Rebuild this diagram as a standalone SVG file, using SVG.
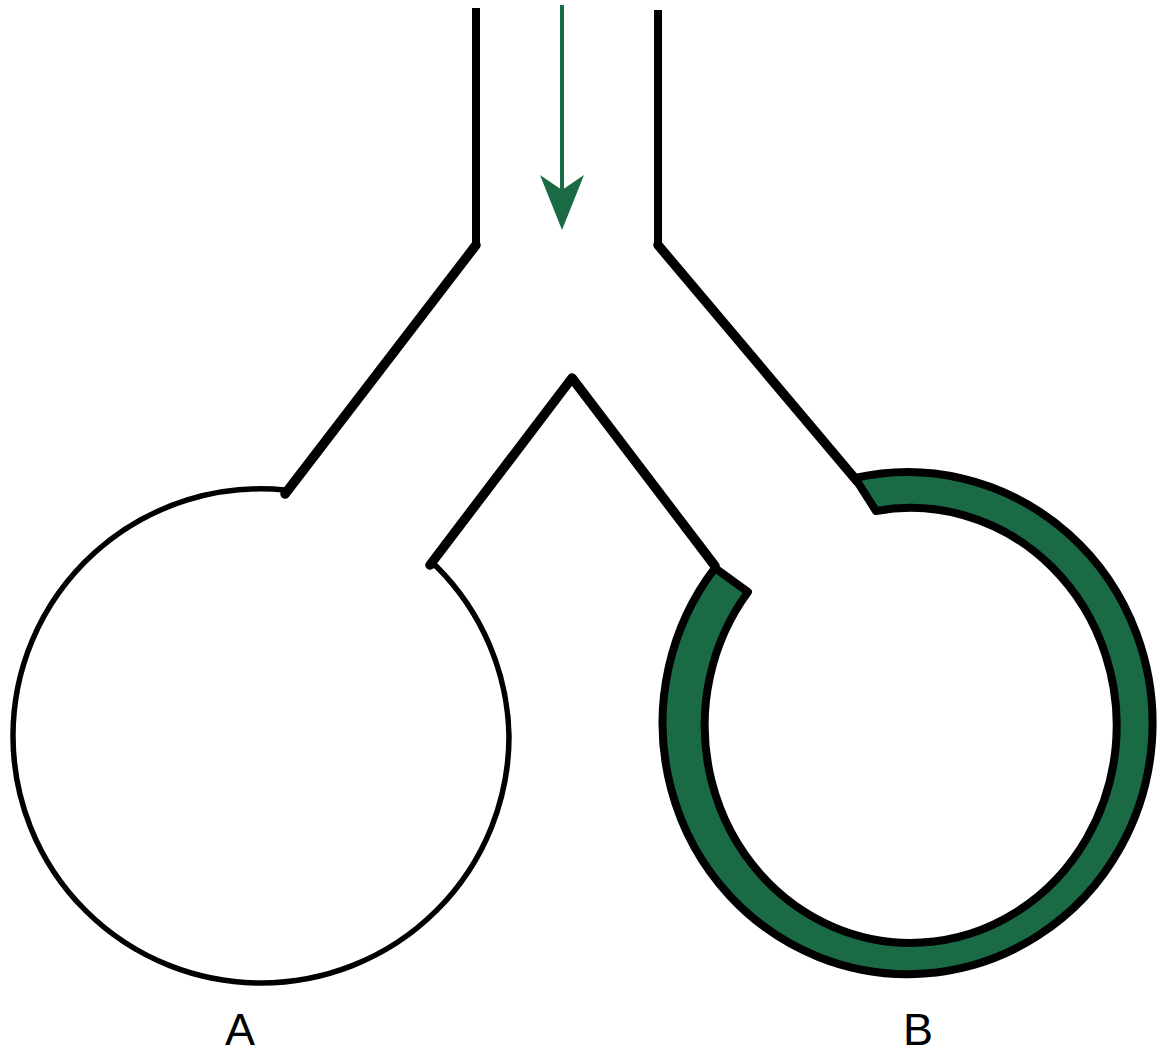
<svg xmlns="http://www.w3.org/2000/svg" width="1157" height="1057" viewBox="0 0 1157 1057">
  <defs>
    <style>
      .wall { fill: none; stroke: #000; stroke-width: 8; stroke-linejoin: round; stroke-linecap: butt; }
      .thick { fill: none; stroke: #000; stroke-width: 9.5; stroke-linejoin: round; stroke-linecap: round; }
      .thin { fill: none; stroke: #000; stroke-width: 5.5; stroke-linejoin: round; stroke-linecap: round; }
      .lining { fill: #1a6a45; stroke: #000; stroke-width: 8; stroke-linejoin: round; }
      .flow { stroke: #1a6a45; stroke-width: 4; fill: none; }
      .label { font-family: "Liberation Sans", Arial, sans-serif; font-size: 45px; fill: #000; text-anchor: middle; }
    </style>
  </defs>
  <rect width="1157" height="1057" fill="#fff"/>

  <!-- Sac A: bare outline, centre (261,736), drawn in quarter arcs -->
  <g id="sac-a">
    <path class="thin" d="M285,494 L285,490 A248,247 0 0 0 13,736 A248,247 0 0 0 261,983 A248,247 0 0 0 509,736 A248,247 0 0 0 436,566 L431,565"/>
  </g>

  <!-- Sac B: coated wall, outer ellipse centre (907,724), inner (911,725.5) -->
  <g id="sac-b">
    <path class="lining" d="M855,478 A245,251 0 1 1 715,568 L748,592 A206,217.5 0 1 0 876,511 Z"/>
  </g>

  <!-- Branching duct walls -->
  <g id="duct">
    <path class="wall" d="M476,8 V245"/>
    <path class="thick" d="M476,245 L285,494"/>
    <path class="wall" d="M658,10 V245"/>
    <path class="thick" d="M658,245 L857,481"/>
    <path class="thick" d="M430,565 L572,378 L715,566"/>
  </g>

  <!-- Flow direction -->
  <g id="connectors">
    <line class="flow" x1="562" y1="5" x2="562" y2="195"/>
    <polygon fill="#1a6a45" points="540,175 562,230 584,175 562,190"/>
  </g>

  <g id="labels">
    <text class="label" x="240" y="1045">A</text>
    <text class="label" x="918" y="1045">B</text>
  </g>
</svg>
